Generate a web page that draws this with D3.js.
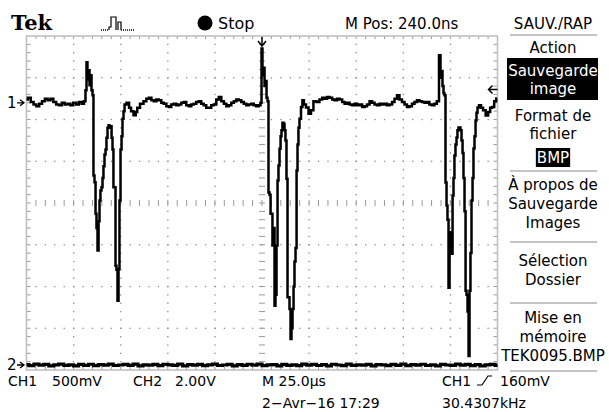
<!DOCTYPE html>
<html>
<head>
<meta charset="utf-8">
<script src="https://cdn.jsdelivr.net/npm/d3@7"></script>
<style>
  body { margin: 0; background: #fff; }
  svg { display: block; font-family: "DejaVu Sans", sans-serif; }
</style>
</head>
<body>
<svg id="drawing_region"></svg>
<script>
// CH1 samples: [time in µs from left edge, level in mV]
const ch1 = [
  [0,40],[1.5,60],[3,10],[4.5,-20],[6,-40],[7.5,-10],[9,20],[10.5,50],[12,30],[13.5,50],
  [15,10],[16.5,-20],[18,-30],[19.5,0],[21,-20],[22.5,-10],[24,-30],[25.5,0],[27,-20],[28.5,10],
  [30,-10],[31,20],
  // pulse 1
  [31.6,150],[32.1,485],[32.6,280],[33.2,390],[33.7,210],[34.2,330],[34.8,150],[35.3,90],
  [35.8,-870],[36.4,-950],[36.9,-1330],[37.4,-1500],[38.0,-1770],[38.5,-1420],[39.0,-1170],
  [39.5,-1050],[40.1,-1010],[40.6,-900],[41.1,-760],[41.7,-620],[42.2,-560],[42.7,-420],
  [43.3,-300],[43.8,-270],[44.3,-300],[44.9,-280],[45.4,-420],[45.9,-560],[46.4,-1010],
  [47.0,-1010],[47.5,-1950],[48.0,-2000],[48.6,-2370],[49.1,-1990],[49.6,-1170],[50.2,-560],
  [50.7,-400],[51.2,-190],[51.8,-100],[52.3,-20],[53.9,0],[55.0,-60],[56.0,-100],[57.6,-150],
  [58.4,-110],[59.2,-60],[61.3,-10],
  [62.9,20],[64.3,50],[65.6,60],[67.0,30],[68.2,20],[69.6,40],[70.9,30],[72.2,0],[73.5,-10],
  [74.9,-40],[76.2,-50],[77.5,-20],[78.8,-10],[80.2,-30],[81.5,-20],[82.8,0],[84.1,10],
  [85.5,-30],[86.8,-40],[88.1,-20],[89.4,-10],[90.8,10],[92.1,20],[93.4,-10],[94.7,-30],
  [96.1,-60],[97.4,-60],[98.7,-30],[100.1,-20],[101.4,40],[102.7,70],[104.1,20],[105.4,-10],
  [106.7,-40],[108.0,-30],[109.4,0],[110.7,20],[112.0,40],[113.3,30],[114.7,10],[116.0,-10],
  [117.3,-30],[118.6,-20],[120.0,-10],[121.3,-30],[122.6,-40],[123.9,-30],[124.5,0],
  // pulse 2 (trigger)
  [125.0,650],[125.5,330],[126.1,420],[126.6,200],[127.1,260],[127.7,60],[128.2,20],
  [128.7,-1075],[129.3,-1100],[129.8,-1330],[130.3,-1330],[130.8,-1710],[131.4,-1500],
  [131.9,-2430],[132.4,-2300],[133.0,-1710],[133.5,-930],[134.0,-750],[134.6,-550],
  [135.1,-400],[135.6,-330],[136.1,-240],[136.7,-250],[137.2,-330],[137.7,-450],[138.3,-910],
  [138.8,-2330],[139.3,-2330],[139.9,-2470],[140.4,-2830],[140.9,-2700],[141.5,-2470],
  [142.0,-2200],[142.5,-1900],[143.1,-1740],[143.6,-810],[144.1,-500],[144.6,-300],
  [145.2,-190],[146.2,-50],[146.7,30],[147.8,-20],[148.9,-55],[150.5,-130],[151.5,-90],
  [153.1,20],[154.7,10],
  [156.3,40],[157.6,60],[158.9,50],[160.2,70],[161.6,60],[162.9,40],[164.2,30],[165.5,50],
  [166.9,40],[168.2,10],[169.5,-10],[170.8,0],[172.2,-20],[173.5,-30],[174.8,-10],[176.1,-30],
  [177.5,-20],[178.8,-50],[180.1,-40],[181.4,-20],[182.8,20],[184.1,0],[185.4,-20],[186.7,-30],
  [188.1,-10],[189.4,-20],[190.7,-10],[192.0,-30],[193.4,-20],[194.7,10],[196.0,50],[197.3,90],
  [198.6,40],[200.0,10],[201.3,-20],[202.6,-50],[203.9,-40],[205.3,-10],[206.6,10],[207.9,30],
  [209.2,20],[210.6,10],[211.9,0],[213.2,10],[214.5,-20],[215.9,-30],[217.2,-10],[218.4,20],
  // pulse 3
  [219.5,569],[220.0,300],[220.5,380],[221.1,200],[221.6,113],[222.1,89],[222.7,-955],
  [223.2,-1230],[223.7,-1400],[224.3,-2215],[224.8,-1800],[225.3,-1550],[225.9,-1807],
  [226.4,-1111],[226.9,-900],[227.4,-631],[228.0,-500],[228.5,-415],[229.0,-330],[229.6,-295],
  [230.1,-295],[230.6,-330],[231.2,-451],[231.7,-600],[232.2,-900],[232.8,-1300],[233.3,-2251],
  [233.8,-2300],[234.4,-2500],[234.9,-3031],[235.4,-2251],[235.9,-1800],[236.5,-1171],
  [237.0,-900],[237.5,-547],[238.1,-400],[238.6,-211],[239.1,-120],[239.7,-55],[240.7,-30],
  [241.8,-60],[242.9,-90],[244.5,-151],[245.6,-110],[246.6,-60],[247.7,-50],[248.8,20],[249.8,53]
];

// CH2 stays on its ground level, only noise (mV)
const ch2_mv = [
  20,-30,40,-10,30,-40,10,45,-20,5,-45,25,-15,35,-35,15,-5,40,-25,0,
  30,-20,45,-40,10,-10,25,-30,35,5,-15,40,-45,20,-5,30,-35,10,45,-25,
  0,25,-40,15,-20,35,-10,40,-30,5,20,-45,30,-15,10,-35,45,-5,25,-25,
  15,-40,35,0,-30,40,-20,10,-10,30,-45,20,5,-35,25,-15,45,-30,15,-5,
  35,-25,10,-40,30,0,-20,40,-10,25,-35,15,-45,5,30,-15
];

const header_labels = ["Tek", "Stop", "M Pos: 240.0ns"];
const menu_title = "SAUV./RAP";
const menu_items = [
  { label: ["Action"], value: ["Sauvegarde", "image"] },
  { label: ["Format de", "fichier"], value: ["BMP"] },
  { label: ["À propos de", "Sauvegarde", "Images"] },
  { label: ["Sélection", "Dossier"] },
  { label: ["Mise en", "mémoire", "TEK0095.BMP"] }
];
const status_row1 = ["CH1", "500mV", "CH2", "2.00V", "M 25.0µs", "CH1", "160mV"];
const status_row2 = ["2\u2212Avr\u221216 17:29", "30.4307kHz"];
const trig_level_mv = 160;
const trig_time_us = 125;

class Scope {
    constructor( config ) {
        this.config = config;
        this.init();
    }

    init() {
        let self = this;
        const c = self.config;

        self.svg = d3.select( c.parent )
            .attr('width', c.width)
            .attr('height', c.height);

        self.xscale = d3.scaleLinear()
            .domain( [0, 10 * c.tdiv] )
            .range( [c.screen.left, c.screen.right] );

        self.y1 = d3.scaleLinear()
            .domain( [(-4 - c.ch1.pos) * c.ch1.vdiv, (4 - c.ch1.pos) * c.ch1.vdiv] )
            .range( [c.screen.bottom, c.screen.top] );

        self.y2 = d3.scaleLinear()
            .domain( [(-4 - c.ch2.pos) * c.ch2.vdiv, (4 - c.ch2.pos) * c.ch2.vdiv] )
            .range( [c.screen.bottom, c.screen.top] );

        self.x2 = d3.scaleLinear()
            .domain( [0, ch2_mv.length - 1] )
            .range( [c.screen.left, c.screen.right] );
    }

    render() {
        this.drawGraticule();
        this.drawTraces();
        this.drawMarkers();
        this.drawHeader();
        this.drawMenu();
        this.drawStatus();
    }

    drawGraticule() {
        let self = this;
        const s = self.config.screen;
        const dx = (s.right - s.left) / 10, dy = (s.bottom - s.top) / 8;
        const cx = s.left + 5 * dx, cy = s.top + 4 * dy;
        const g = self.svg.append('g');

        // dotted division lines
        let dots = [];
        [1,2,3,4,6,7,8,9].forEach( i => d3.range(1, 40).forEach( k =>
            dots.push( [s.left + i * dx, s.top + k * dy / 5] ) ) );
        [1,2,3,5,6,7].forEach( j => d3.range(1, 50).forEach( k =>
            dots.push( [s.left + k * dx / 5, s.top + j * dy] ) ) );
        g.selectAll('rect.dot')
            .data(dots)
            .join('rect')
            .attr('class', 'dot')
            .attr('x', d => d[0] - 0.6)
            .attr('y', d => d[1] - 0.6)
            .attr('width', 1.3)
            .attr('height', 1.3)
            .attr('fill', '#8a8a8a');

        // minor ticks on centre lines and border
        let ticks = [];
        d3.range(1, 50).forEach( k => {
            const x = s.left + k * dx / 5;
            ticks.push( [x, cy - 3, x, cy + 3] );
            ticks.push( [x, s.top, x, s.top + 3] );
            ticks.push( [x, s.bottom - 3, x, s.bottom] );
        });
        d3.range(1, 40).forEach( k => {
            const y = s.top + k * dy / 5;
            ticks.push( [cx - 3, y, cx + 3, y] );
            ticks.push( [s.left, y, s.left + 4, y] );
            ticks.push( [s.right - 4, y, s.right, y] );
        });
        g.selectAll('line.tick')
            .data(ticks)
            .join('line')
            .attr('class', 'tick')
            .attr('x1', d => d[0]).attr('y1', d => d[1])
            .attr('x2', d => d[2]).attr('y2', d => d[3])
            .attr('stroke', '#9a9a9a')
            .attr('stroke-width', 1);

        g.append('rect')
            .attr('x', s.left)
            .attr('y', s.top)
            .attr('width', s.right - s.left)
            .attr('height', s.bottom - s.top)
            .attr('fill', 'none')
            .attr('stroke', '#bdbdbd')
            .attr('stroke-width', 1.5);
    }

    drawTraces() {
        let self = this;

        const line1 = d3.line()
            .x( d => self.xscale( d[0] ) )
            .y( d => self.y1( d[1] ) )
            .curve( d3.curveStep );

        self.svg.append('path')
            .datum(ch1)
            .attr('d', line1)
            .attr('fill', 'none')
            .attr('stroke', '#000')
            .attr('stroke-width', 2.5);

        const line2 = d3.line()
            .x( (d, i) => self.x2( i ) )
            .y( d => self.y2( d ) )
            .curve( d3.curveStep );

        self.svg.append('path')
            .datum(ch2_mv)
            .attr('d', line2)
            .attr('fill', 'none')
            .attr('stroke', '#000')
            .attr('stroke-width', 3.2);
    }

    drawMarkers() {
        let self = this;
        const s = self.config.screen;

        // channel ground markers
        [ ['1', self.y1(0)], ['2', self.y2(0)] ].forEach( ([lab, y]) => {
            self.svg.append('text')
                .attr('x', 7)
                .attr('y', y + 5)
                .attr('font-size', '15px')
                .text(lab);
            self.svg.append('path')
                .attr('d', `M17,${y} H24 M20,${y - 3} L24,${y} L20,${y + 3}`)
                .attr('fill', 'none')
                .attr('stroke', '#000')
                .attr('stroke-width', 1.3);
        });

        // trigger level arrow (right edge)
        const ty = self.y1( trig_level_mv );
        self.svg.append('path')
            .attr('d', `M${s.right},${ty} H${s.right - 9} M${s.right - 5},${ty - 4} L${s.right - 9},${ty} L${s.right - 5},${ty + 4}`)
            .attr('fill', 'none')
            .attr('stroke', '#000')
            .attr('stroke-width', 1.5);

        // trigger position arrow (top)
        const tx = self.xscale( trig_time_us );
        self.svg.append('path')
            .attr('d', `M${tx},${s.top + 1} V${s.top + 10} M${tx - 4},${s.top + 5} L${tx},${s.top + 10} L${tx + 4},${s.top + 5}`)
            .attr('fill', 'none')
            .attr('stroke', '#000')
            .attr('stroke-width', 1.5);
    }

    drawHeader() {
        let self = this;

        self.svg.append('text')
            .attr('x', 11)
            .attr('y', 30)
            .attr('font-family', '"DejaVu Serif", serif')
            .attr('font-weight', 'bold')
            .attr('font-size', '21px')
            .text(header_labels[0]);

        // trigger type icon
        self.svg.append('path')
            .attr('d', 'M109,30 V27 H111 V17 H116 V30 M118,30 V22 H121 V30')
            .attr('fill', 'none')
            .attr('stroke', '#000')
            .attr('stroke-width', 1.2);
        self.svg.append('path')
            .attr('d', 'M101,30 H109 M121,30 H135')
            .attr('fill', 'none')
            .attr('stroke', '#000')
            .attr('stroke-width', 1.4)
            .attr('stroke-dasharray', '1,1');

        self.svg.append('circle')
            .attr('cx', 205)
            .attr('cy', 23)
            .attr('r', 7.5)
            .attr('fill', '#000');

        self.svg.append('text')
            .attr('x', 218)
            .attr('y', 29)
            .attr('font-size', '16px')
            .text(header_labels[1]);

        self.svg.append('text')
            .attr('x', 345)
            .attr('y', 29)
            .attr('font-size', '15px')
            .text(header_labels[2]);
    }

    drawMenu() {
        let self = this;
        const mx = 553;
        const g = self.svg.append('g')
            .attr('text-anchor', 'middle')
            .attr('font-size', '15px');

        g.append('text').attr('x', mx).attr('y', 29).text(menu_title);

        const sep = y => g.append('line')
            .attr('x1', 510).attr('x2', 597)
            .attr('y1', y).attr('y2', y)
            .attr('stroke', '#b0b0b0')
            .attr('stroke-width', 1.5);
        sep(35);

        // Action / Sauvegarde image
        g.append('text').attr('x', mx).attr('y', 53).text(menu_items[0].label[0]);
        g.append('rect')
            .attr('x', 507).attr('y', 58)
            .attr('width', 91).attr('height', 42)
            .attr('fill', '#000');
        g.append('text').attr('x', mx).attr('y', 76).attr('fill', '#fff').text(menu_items[0].value[0]);
        g.append('text').attr('x', mx).attr('y', 94).attr('fill', '#fff').text(menu_items[0].value[1]);

        // Format de fichier / BMP
        g.append('text').attr('x', mx).attr('y', 121).text(menu_items[1].label[0]);
        g.append('text').attr('x', mx).attr('y', 139).text(menu_items[1].label[1]);
        const bmp_box = g.append('rect').attr('fill', '#000');
        const bmp = g.append('text').attr('x', mx).attr('y', 163).attr('fill', '#fff').text(menu_items[1].value[0]);
        const bb = bmp.node().getBBox();
        bmp_box.attr('x', bb.x - 1).attr('y', 148).attr('width', bb.width + 2).attr('height', 19);
        sep(171);

        const blocks = [ [2, [190, 209, 228], 242], [3, [266, 285], 303], [4, [323, 342, 361], 371] ];
        blocks.forEach( ([i, ys, sy]) => {
            menu_items[i].label.forEach( (t, k) =>
                g.append('text').attr('x', mx).attr('y', ys[k]).text(t) );
            sep(sy);
        });
    }

    drawStatus() {
        let self = this;
        const g = self.svg.append('g').attr('font-size', '14px');
        const row1_x = [8, 52, 133, 175, 262, 442, 500];
        status_row1.forEach( (t, i) =>
            g.append('text').attr('x', row1_x[i]).attr('y', 386).text(t) );

        // rising slope symbol
        g.append('path')
            .attr('d', 'M477,385 H482 L488,376 H492')
            .attr('fill', 'none')
            .attr('stroke', '#000')
            .attr('stroke-width', 1.2);

        g.append('text').attr('x', 262).attr('y', 408).text(status_row2[0]);
        g.append('text').attr('x', 442).attr('y', 408).text(status_row2[1]);
    }
}

const config = {
    parent: '#drawing_region',
    width: 609,
    height: 412,
    screen: { left: 26.5, top: 36, right: 497.5, bottom: 370 },
    tdiv: 25,
    ch1: { vdiv: 500, pos: 2.4 },
    ch2: { vdiv: 2000, pos: -3.88 }
};

const scope = new Scope( config );
scope.render();
</script>
</body>
</html>
